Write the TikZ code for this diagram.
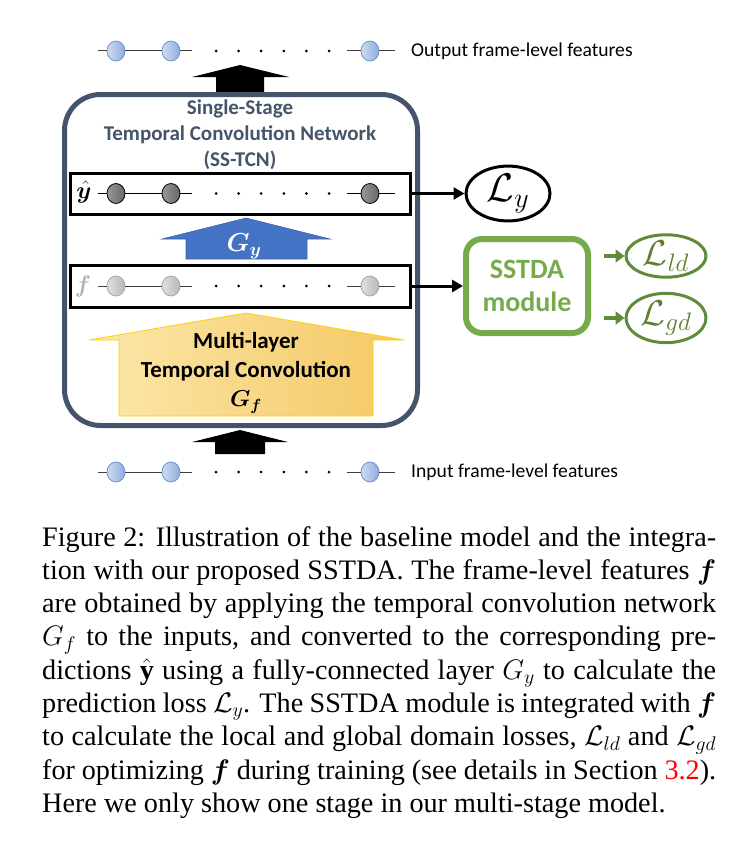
\RequirePackage{fix-cm}
\documentclass[tikz,border=0pt]{standalone}
\usepackage{amsmath,bm}
\usepackage{fontspec}
\setmainfont{Liberation Serif}
\newfontfamily\calibri{Carlito}
\usetikzlibrary{arrows.meta,shapes.geometric,positioning}
\definecolor{slate}{HTML}{44546A}
\definecolor{tcnblue}{HTML}{4472C4}
\definecolor{sgreen}{HTML}{76AB4B}
\definecolor{dgreen}{HTML}{5F8C3A}
\definecolor{lgreen}{HTML}{5E7F2F}
\definecolor{featlo}{HTML}{CFDCF2}
\definecolor{feathi}{HTML}{8EABDD}
\definecolor{featbd}{HTML}{6F91CF}
\definecolor{ylo}{HTML}{FCE7AA}
\definecolor{yhi}{HTML}{F4C865}
\tikzset{
  featin/.style={ellipse,minimum width=18pt,minimum height=20pt,inner sep=0pt,left color=featlo,right color=feathi,draw=featbd,line width=0.8pt},
  featy/.style={ellipse,minimum width=18pt,minimum height=20pt,inner sep=0pt,left color=black!40,right color=black!60,draw=black,line width=0.8pt},
  featf/.style={ellipse,minimum width=18pt,minimum height=20pt,inner sep=0pt,left color=black!12,right color=black!28,draw=black!35,line width=0.8pt},
  rowline/.style={line width=1pt,draw=black!75},
  rowbox/.style={draw,line width=3pt,minimum width=340pt,minimum height=41pt,inner sep=0pt},
  lossnode/.style={ellipse,line width=3pt,inner sep=0pt},
  blkarrow/.style={line width=3pt,-{Triangle[length=11pt,width=12pt]}},
  garrow/.style={line width=4.5pt,draw=dgreen,-{Triangle[length=9pt,width=13pt]},shorten <=13pt},
  lbl/.style={font=\calibri\fontsize{19.6}{23}\selectfont,anchor=west,inner sep=0pt}
}
\begin{document}
\begin{tikzpicture}[x=1pt,y=-1pt,>=stealth]
\useasboundingbox (0,0) rectangle (746,851);

% output and input rows
\foreach \i/\x in {1/116,2/171,3/370} \node[featin] (out\i) at (\x,51) {};
\draw[rowline] (out1.west) ++(-9,0) -- (out1.west) (out1.east) -- (out2.west) (out2.east) -- ++(12,0)
  (out3.west) ++(-14,0) -- (out3.west) (out3.east) -- ++(16,0);
\foreach \x in {216,238.6,...,330} \fill (\x,51) circle (1.5);
\node[lbl] (outlbl) at (411,51) {Output frame-level features};

\foreach \i/\x in {1/116,2/171,3/370} \node[featin] (in\i) at (\x,472) {};
\draw[rowline] (in1.west) ++(-9,0) -- (in1.west) (in1.east) -- (in2.west) (in2.east) -- ++(12,0)
  (in3.west) ++(-14,0) -- (in3.west) (in3.east) -- ++(16,0);
\foreach \x in {216,238.6,...,330} \fill (\x,472) circle (1.5);
\node[lbl] (inlbl) at (411,472) {Input frame-level features};

% black block arrows
\fill (240,65) -- (289,77) -- (264,77) -- (264,93) -- (216,93) -- (216,77) -- (192,77) -- cycle;
\fill (240,430) -- (288,442) -- (265,442) -- (265,454) -- (215,454) -- (215,442) -- (192,442) -- cycle;

% SS-TCN
\node[draw=slate,line width=5pt,rounded corners=36pt,minimum width=353pt,minimum height=331pt] (tcn) at (241,260) {};
\node[font=\calibri\bfseries\fontsize{21}{26}\selectfont,text=slate,align=center] (title) at (240,135)
  {Single-Stage\\Temporal Convolution Network\\(SS-TCN)};

\node[rowbox] (yrow) at (240,193.5) {};
\node[font=\fontsize{24}{28}\selectfont,inner sep=0pt] (ylbl) at (84,192) {$\bm{\hat y}$};
\foreach \i/\x in {1/116,2/171,3/370} \node[featy] (y\i) at (\x,193.5) {};
\draw[line width=1pt] (y1.west) ++(-9,0) -- (y1.west) (y1.east) -- (y2.west) (y2.east) -- ++(12,0)
  (y3.west) ++(-14,0) -- (y3.west) (y3.east) -- ++(16,0);
\foreach \x in {216,238.6,...,330} \fill (\x,193.5) circle (1.5);

\node[rowbox,minimum height=42pt] (frow) at (240,286) {};
\node[font=\fontsize{24}{28}\selectfont,text=black!30,inner sep=0pt] (flbl) at (83,286) {$\bm{f}$};
\foreach \i/\x in {1/116,2/171,3/370} \node[featf] (f\i) at (\x,286) {};
\draw[rowline] (f1.west) ++(-9,0) -- (f1.west) (f1.east) -- (f2.west) (f2.east) -- ++(12,0)
  (f3.west) ++(-14,0) -- (f3.west) (f3.east) -- ++(16,0);
\foreach \x in {216,238.6,...,330} \fill (\x,286) circle (1.5);

% G_y and G_f
\filldraw[fill=tcnblue,draw=tcnblue!85!black,line width=0.6pt] (246,218) -- (330,239) -- (307,239) -- (307,259)
  -- (186,259) -- (186,239) -- (162,239) -- cycle;
\node[text=white,font=\fontsize{26}{30}\selectfont] (Gy) at (244,246) {$\bm{G_y}$};
\path[left color=ylo,right color=yhi,draw=yellow!70!orange,line width=0.8pt] (246,313) -- (404,340) -- (373,340)
  -- (373,416) -- (119,416) -- (119,340) -- (89,340) -- cycle;
\node[font=\calibri\bfseries\fontsize{23}{29}\selectfont,align=center] (Gf) at (246,373)
  {Multi-layer\\Temporal Convolution\\$\bm{G_f}$};

% losses and SSTDA
\node[lossnode,draw,minimum width=84pt,minimum height=44pt,font=\fontsize{40}{44}\selectfont] (Ly) at (508,193.5) {$\mathcal{L}_y$};
\node[draw=sgreen,line width=6pt,rounded corners=16pt,minimum width=122pt,minimum height=94pt,text=sgreen,align=center,
  font=\calibri\bfseries\fontsize{28}{33}\selectfont] (sstda) at (527,286) {SSTDA\\module};
\node[lossnode,draw=dgreen,text=lgreen,minimum width=80pt,minimum height=42pt,font=\fontsize{36}{40}\selectfont] (Lld) at (666,256) {$\mathcal{L}_{ld}$};
\node[lossnode,draw=dgreen,text=lgreen,minimum width=80pt,minimum height=42pt,font=\fontsize{36}{40}\selectfont] (Lgd) at (666,318) {$\mathcal{L}_{gd}$};

\draw[blkarrow] (yrow) -- (Ly);
\draw[blkarrow] (frow) -- (sstda);
\draw[garrow] (sstda.east |- Lld) -- (Lld);
\draw[garrow] (sstda.east |- Lgd) -- (Lgd);

% caption
\node[anchor=north west,inner sep=0pt,text width=674pt,align=justify,font=\fontsize{28.2}{33.3}\selectfont] (cap) at (42,526)
  {Figure 2: Illustration of the baseline model and the integra-\linebreak
  tion with our proposed SSTDA. The frame-level features $\bm{f}$\linebreak
  are obtained by applying the temporal convolution network\linebreak
  $G_f$ to the inputs, and converted to the corresponding pre-\linebreak
  dictions $\hat{\mathbf{y}}$ using a fully-connected layer $G_y$ to calculate the\linebreak
  prediction loss $\mathcal{L}_y$. The SSTDA module is integrated with $\bm{f}$\linebreak
  to calculate the local and global domain losses, $\mathcal{L}_{ld}$ and $\mathcal{L}_{gd}$\linebreak
  for optimizing $\bm{f}$ during training (see details in Section \textcolor{red}{3.2}).\linebreak
  Here we only show one stage in our multi-stage model.};
\end{tikzpicture}
\end{document}
